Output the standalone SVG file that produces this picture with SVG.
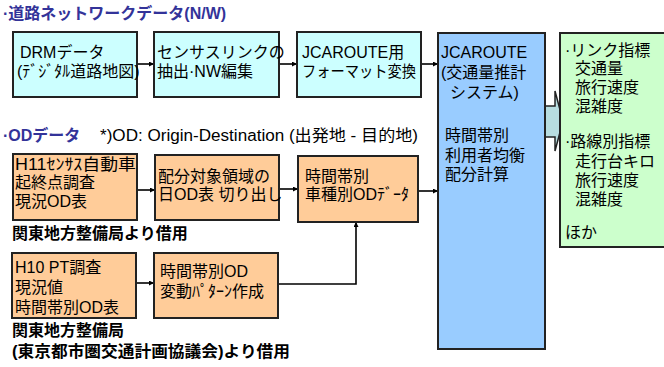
<svg xmlns="http://www.w3.org/2000/svg" width="664" height="367" viewBox="0 0 664 367">
<defs>
<style>
text{font-family:"Liberation Sans","Noto Sans CJK JP",sans-serif;font-size:16px;fill:#000}
.box{stroke:#222;stroke-width:2}
.cyan{fill:#ccffff}.org{fill:#ffcc99}.blue{fill:#99ccff}.green{fill:#ccffcc}
.ttl{fill:#333399;font-weight:bold;font-size:16px}
.b{font-weight:bold}
.ln{stroke:#000;stroke-width:1.6;fill:none}
</style>
<marker id="ah" viewBox="0 0 10 10" refX="10" refY="5" markerWidth="5" markerHeight="5" orient="auto" markerUnits="userSpaceOnUse"><path d="M0,0L10,5L0,10z" fill="#000"/></marker>
</defs>
<rect width="664" height="367" fill="#fff"/>
<text class="ttl" x="3" y="19">·道路ネットワークデータ(N/W)</text>
<text class="ttl" x="3" y="141">·ODデータ</text>
<text x="100" y="141" textLength="318" lengthAdjust="spacingAndGlyphs">*)OD: Origin-Destination (出発地 - 目的地)</text>
<text class="b" x="12" y="239">関東地方整備局より借用</text>
<text class="b" x="12" y="336">関東地方整備局</text>
<text class="b" x="12" y="357" textLength="278" lengthAdjust="spacingAndGlyphs">(東京都市圏交通計画協議会)より借用</text>
<g id="connectors">
<line class="ln" x1="137" y1="64" x2="154" y2="64" marker-end="url(#ah)"/>
<line class="ln" x1="279" y1="64" x2="297" y2="64" marker-end="url(#ah)"/>
<line class="ln" x1="421" y1="64" x2="438" y2="64" marker-end="url(#ah)"/>
<line class="ln" x1="137" y1="190" x2="155" y2="190" marker-end="url(#ah)"/>
<line class="ln" x1="279" y1="189" x2="298" y2="189" marker-end="url(#ah)"/>
<line class="ln" x1="418" y1="191" x2="438" y2="191" marker-end="url(#ah)"/>
<line class="ln" x1="136" y1="283" x2="154" y2="283" marker-end="url(#ah)"/>
<polyline class="ln" points="278,284 356,284 356,222" marker-end="url(#ah)"/>
<path d="M545,106L555,106L555,91L563,121L555,151L555,137L545,137z" fill="#b8dde0" stroke="#222" stroke-width="1.5"/>
</g>
<g id="drm"><rect class="box cyan" x="13" y="32" width="124" height="65"/><text x="20" y="58">DRMデータ</text><text x="17" y="77" font-size="14">(ﾃﾞｼﾞﾀﾙ道路地図)</text></g>
<g id="census"><rect class="box cyan" x="154" y="32" width="125" height="65"/><text x="157" y="58">センサスリンクの</text><text x="157" y="77">抽出·NW編集</text></g>
<g id="format"><rect class="box cyan" x="297" y="32" width="124" height="65"/><text x="302" y="58">JCAROUTE用</text><text x="302" y="77" textLength="114" lengthAdjust="spacingAndGlyphs">フォーマット変換</text></g>
<g id="jcaroute"><rect class="box blue" x="438" y="33" width="107" height="316"/><text x="441" y="58">JCAROUTE</text><text x="441" y="78">(交通量推計</text><text x="450" y="98">システム)</text><text x="445" y="141">時間帯別</text><text x="445" y="161">利用者均衡</text><text x="445" y="180">配分計算</text></g>
<g id="result"><rect class="box green" x="560" y="33" width="106" height="214"/><text x="565" y="56">·リンク指標</text><text x="575" y="74">交通量</text><text x="575" y="93">旅行速度</text><text x="575" y="112">混雑度</text><text x="565" y="147">·路線別指標</text><text x="575" y="167">走行台キロ</text><text x="575" y="186">旅行速度</text><text x="575" y="205">混雑度</text><text x="565" y="238">ほか</text></g>
<g id="h11"><rect class="box org" x="13" y="154" width="124" height="66"/><text x="15" y="170" textLength="121" lengthAdjust="spacingAndGlyphs">H11ｾﾝｻｽ自動車</text><text x="15" y="188">起終点調査</text><text x="15" y="207">現況OD表</text></g>
<g id="haibun"><rect class="box org" x="155" y="155" width="124" height="65"/><text x="158" y="182">配分対象領域の</text><text x="158" y="200">日OD表 切り出し</text></g>
<g id="shashu"><rect class="box org" x="298" y="156" width="120" height="66"/><text x="305" y="182">時間帯別</text><text x="305" y="200">車種別ODﾃﾞｰﾀ</text></g>
<g id="h10"><rect class="box org" x="12" y="253" width="124" height="65"/><text x="15" y="273">H10 PT調査</text><text x="15" y="293">現況値</text><text x="15" y="313">時間帯別OD表</text></g>
<g id="hendo"><rect class="box org" x="154" y="253" width="124" height="65"/><text x="160" y="277">時間帯別OD</text><text x="160" y="297">変動ﾊﾟﾀｰﾝ作成</text></g>
</svg>
